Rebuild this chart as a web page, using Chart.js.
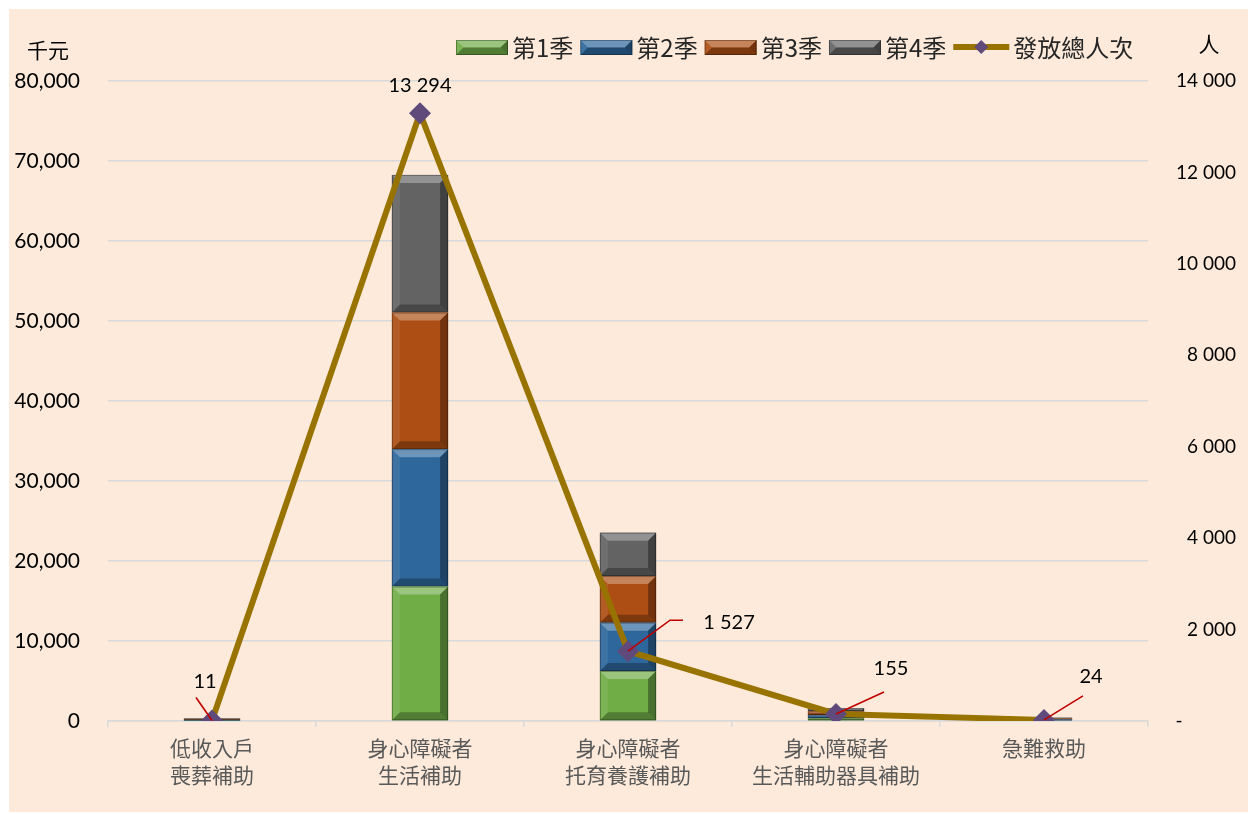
<!DOCTYPE html>
<html>
<head>
<meta charset="utf-8">
<script src="https://cdn.jsdelivr.net/npm/chart.js@4"></script>
<style>
  body { margin: 0; background: #fff; }
  #wrap { position: absolute; left: 9px; top: 9px; width: 1239px; height: 803px; background: #FDEADA; }
</style>
</head>
<body>
<div id="wrap"><canvas id="chart" width="1239" height="803"></canvas></div>
<script>
const categories = [
    ['低收入戶', '喪葬補助'],
    ['身心障礙者', '生活補助'],
    ['身心障礙者', '托育養護補助'],
    ['身心障礙者', '生活輔助器具補助'],
    '急難救助'
];
// 千元, per quarter
const q1 = [60, 16800, 6250, 350, 90];
const q2 = [70, 17170, 6040, 400, 100];
const q3 = [80, 17080, 5830, 450, 110];
const q4 = [90, 17210, 5410, 400, 100];
// 人
const people = [11, 13294, 1527, 155, 24];

const seriesNames = ['第1季', '第2季', '第3季', '第4季', '發放總人次'];
const barColors = ['#70AD47', '#2E679C', '#AD4F14', '#636363'];
const lineColor = '#997300';
const markColor = '#604A7B';

// label placement relative to each point (pixels), and leader line bends
const labelOffsets = [[-7, -39], [0, -28], [101, -29], [55, -45], [47, -43]];
const leaders = [
    [[-16, -23]],
    null,
    [[42, -31], [55, -31]],
    [[48, -22]],
    [[39, -24]]
];

const numFont = "Lato, 'Noto Sans CJK TC', sans-serif";
const cjkFont = "'Noto Sans CJK TC', Lato, sans-serif";

function spaceThousands(v) {
    return String(v).replace(/\B(?=(\d{3})+(?!\d))/g, ' ');
}

function bevelRect(ctx, l, t, w, h, color) {
    const r = l + w, bt = t + h;
    const b = Math.min(8, h / 2, w / 2);
    ctx.save();
    ctx.fillStyle = color;
    ctx.fillRect(l, t, w, h);
    const poly = (pts, fill) => {
        ctx.beginPath();
        ctx.moveTo(pts[0][0], pts[0][1]);
        for (let i = 1; i < pts.length; i++) ctx.lineTo(pts[i][0], pts[i][1]);
        ctx.closePath();
        ctx.fillStyle = fill;
        ctx.fill();
    };
    poly([[l, t], [r, t], [r - b, t + b], [l + b, t + b]], 'rgba(255,255,255,0.3)');
    poly([[l, t], [l + b, t + b], [l + b, bt - b], [l, bt]], 'rgba(255,255,255,0.08)');
    poly([[r, t], [r, bt], [r - b, bt - b], [r - b, t + b]], 'rgba(0,0,0,0.35)');
    poly([[l, bt], [r, bt], [r - b, bt - b], [l + b, bt - b]], 'rgba(0,0,0,0.28)');
    ctx.strokeStyle = 'rgba(0,0,0,0.3)';
    ctx.lineWidth = 1;
    ctx.strokeRect(l + 0.5, t + 0.5, w - 1, h - 1);
    ctx.restore();
}

const bevelPlugin = {
    id: 'bevel',
    afterDatasetDraw(chart, args) {
        const meta = args.meta;
        if (meta.type !== 'bar') return;
        const ctx = chart.ctx;
        const color = barColors[args.index - 1];
        meta.data.forEach(bar => {
            const top = Math.min(bar.y, bar.base);
            const h = Math.abs(bar.base - bar.y);
            if (h < 0.5) return;
            bevelRect(ctx, bar.x - bar.width / 2, top, bar.width, h, color);
        });
    }
};

const extrasPlugin = {
    id: 'extras',
    afterDatasetsDraw(chart) {
        const ctx = chart.ctx;
        const pts = chart.getDatasetMeta(0).data;
        ctx.save();
        // leader lines
        ctx.strokeStyle = '#C00000';
        ctx.lineWidth = 1.6;
        pts.forEach((p, i) => {
            if (!leaders[i]) return;
            ctx.beginPath();
            ctx.moveTo(p.x, p.y);
            leaders[i].forEach(o => ctx.lineTo(p.x + o[0], p.y + o[1]));
            ctx.stroke();
        });
        // value labels
        ctx.fillStyle = '#000';
        ctx.font = '20px ' + numFont;
        ctx.textAlign = 'center';
        ctx.textBaseline = 'middle';
        pts.forEach((p, i) => {
            ctx.fillText(spaceThousands(people[i]), p.x + labelOffsets[i][0], p.y + labelOffsets[i][1]);
        });
        ctx.restore();
    },
    afterDraw(chart) {
        const ctx = chart.ctx;
        ctx.save();
        // axis units
        ctx.fillStyle = '#000';
        ctx.font = '21px ' + cjkFont;
        ctx.textAlign = 'center';
        ctx.textBaseline = 'middle';
        ctx.fillText('千元', 39, 41);
        ctx.fillText('人', 1200, 35);
        // legend
        ctx.font = '24px ' + cjkFont;
        ctx.textAlign = 'left';
        let x = 447;
        const cy = 38;
        seriesNames.forEach((name, i) => {
            if (i < 4) {
                bevelRect(ctx, x, cy - 7, 52, 15, barColors[i]);
            } else {
                ctx.strokeStyle = lineColor;
                ctx.lineWidth = 6;
                ctx.beginPath();
                ctx.moveTo(x, cy);
                ctx.lineTo(x + 56, cy);
                ctx.stroke();
                ctx.fillStyle = markColor;
                ctx.beginPath();
                ctx.moveTo(x + 28 - 7, cy);
                ctx.lineTo(x + 28, cy - 7);
                ctx.lineTo(x + 28 + 7, cy);
                ctx.lineTo(x + 28, cy + 7);
                ctx.closePath();
                ctx.fill();
            }
            const sw = i < 4 ? 52 : 56;
            ctx.fillStyle = '#262626';
            ctx.fillText(name, x + sw + 4, cy + 1);
            x += sw + 4 + ctx.measureText(name).width + 7;
        });
        ctx.restore();
    }
};

const barSet = (label, data, i) => ({
    type: 'bar',
    label: label,
    data: data,
    backgroundColor: barColors[i],
    borderWidth: 0,
    yAxisID: 'y',
    order: 1,
    barPercentage: 0.27,
    categoryPercentage: 1
});

new Chart(document.getElementById('chart'), {
    data: {
        labels: categories,
        datasets: [
            {
                type: 'line',
                label: seriesNames[4],
                data: people,
                yAxisID: 'y1',
                borderColor: lineColor,
                borderWidth: 6,
                pointStyle: 'rectRot',
                pointRadius: 11,
                pointBackgroundColor: markColor,
                pointBorderColor: markColor,
                pointBorderWidth: 0,
                tension: 0,
                order: 0
            },
            barSet(seriesNames[0], q1, 0),
            barSet(seriesNames[1], q2, 1),
            barSet(seriesNames[2], q3, 2),
            barSet(seriesNames[3], q4, 3)
        ]
    },
    options: {
        responsive: false,
        animation: false,
        layout: { padding: { top: 72, right: 12, bottom: 0, left: 0 } },
        plugins: {
            legend: { display: false },
            tooltip: { enabled: false }
        },
        scales: {
            x: {
                stacked: true,
                offset: true,
                grid: {
                    offset: true,
                    drawOnChartArea: false,
                    drawTicks: true,
                    tickLength: 6,
                    color: '#D9D9D9',
                    lineWidth: 1.5
                },
                border: { display: true, color: '#D9D9D9', width: 1.5 },
                ticks: {
                    color: '#595959',
                    font: { family: cjkFont, size: 21, lineHeight: 1.28 },
                    padding: 8,
                    maxRotation: 0,
                    autoSkip: false
                },
                afterFit(scale) { scale.height = 91; }
            },
            y: {
                stacked: true,
                position: 'left',
                min: 0,
                max: 80000,
                grid: { color: '#D9D9D9', lineWidth: 1.5, drawTicks: false },
                border: { display: false },
                ticks: {
                    stepSize: 10000,
                    color: '#000',
                    font: { family: numFont, size: 21 },
                    padding: 28,
                    callback: v => v.toLocaleString('en-US')
                },
                afterFit(scale) { scale.width = 99; }
            },
            y1: {
                position: 'right',
                min: 0,
                max: 14000,
                grid: { drawOnChartArea: false, drawTicks: false },
                border: { display: false },
                ticks: {
                    stepSize: 2000,
                    color: '#000',
                    crossAlign: 'far',
                    font: { family: numFont, size: 19 },
                    callback: v => v === 0 ? '-' + ' '.repeat(11) : spaceThousands(v)
                },
                afterFit(scale) { scale.width = 88; }
            }
        }
    },
    plugins: [bevelPlugin, extrasPlugin]
});
</script>
</body>
</html>
